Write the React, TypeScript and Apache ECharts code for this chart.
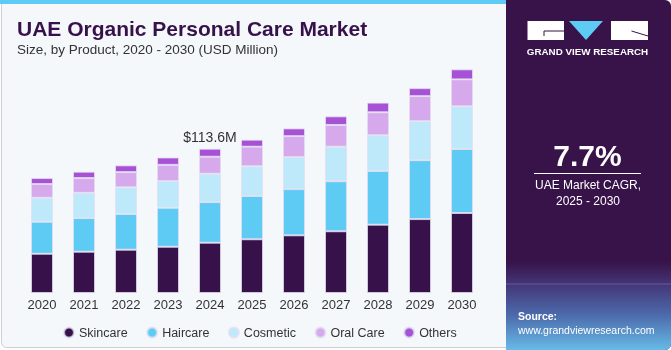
import React, { useEffect, useRef } from "react";
import * as echarts from "echarts";

const years = ["2020", "2021", "2022", "2023", "2024", "2025", "2026", "2027", "2028", "2029", "2030"];
const skincare = [30.9, 32.5, 34.1, 36.4, 39.6, 42.3, 45.4, 48.6, 53.8, 58.2, 63.0];
const haircare = [25.2, 26.5, 28.1, 30.7, 32.0, 34.1, 36.4, 39.4, 42.3, 46.4, 50.4];
const cosmetic = [18.9, 19.9, 21.0, 21.0, 22.3, 23.4, 25.2, 27.2, 28.1, 30.7, 33.6];
const oralCare = [10.8, 11.6, 12.0, 12.8, 13.4, 15.4, 16.5, 17.1, 18.1, 19.7, 21.2];
const others = [4.7, 5.0, 5.3, 5.8, 6.3, 5.5, 6.1, 6.8, 7.6, 6.3, 7.9];
const labelledYear = "2024";

const seriesNames = ["Skincare", "Haircare", "Cosmetic", "Oral Care", "Others"];
const seriesColors = ["#37114a", "#5ecbf5", "#bee9fa", "#d5a9ec", "#a651d6"];

const FONT = "'Liberation Sans', Arial, sans-serif";

export default function App() {
  const ref = useRef<HTMLDivElement>(null);

  useEffect(() => {
    if (!ref.current) return;
    const chart = echarts.init(ref.current, undefined, { renderer: "svg" });
    const all = [skincare, haircare, cosmetic, oralCare, others];
    const labelIdx = years.indexOf(labelledYear);
    const series = all.map((arr, si) => ({
      name: seriesNames[si],
      type: "bar",
      stack: "total",
      barWidth: 22,
      itemStyle: { color: seriesColors[si], borderColor: "rgba(228,222,242,0.75)", borderWidth: 1 },
      data: arr.map((v, i) => {
        if (si === all.length - 1 && i === labelIdx) {
          const total = all.reduce((s, a) => s + a[i], 0);
          return {
            value: v,
            label: {
              show: true,
              position: "top",
              distance: 5,
              formatter: () => "$" + total.toFixed(1) + "M",
              fontSize: 14,
              color: "#333",
              fontFamily: FONT,
            },
          };
        }
        return v;
      }),
    }));

    chart.setOption({
      animation: false,
      textStyle: { fontFamily: FONT },
      grid: { left: 21, width: 462, top: 39, bottom: 57 },
      xAxis: {
        type: "category",
        data: years,
        axisLine: { show: false },
        axisTick: { show: false },
        axisLabel: { color: "#333", fontSize: 13, margin: 5, fontFamily: FONT },
      },
      yAxis: { type: "value", min: 0, max: 200, show: false },
      legend: {
        data: seriesNames,
        icon: "circle",
        itemWidth: 10,
        itemHeight: 10,
        itemGap: 18.5,
        left: 58,
        top: 321,
        textStyle: { fontSize: 12.5, color: "#333", fontFamily: FONT },
      },
      color: seriesColors,
      graphic: [
        { type: "rect", z: -10, shape: { x: 1.5, y: 0.5, width: 520, height: 347, r: 5 }, style: { fill: "#f4f8fb", stroke: "#cfcfcf", lineWidth: 1 } },
        { type: "rect", z: -9, shape: { x: 0, y: 0, width: 510, height: 4 }, style: { fill: "#5ecbf5" } },
        { type: "rect", z: -8, shape: { x: 506, y: 0, width: 165, height: 350, r: [0, 6, 6, 0] }, style: { fill: "#371349" } },
        {
          type: "rect", z: -7, shape: { x: 506, y: 262, width: 165, height: 88, r: [0, 0, 6, 0] },
          style: {
            fill: new echarts.graphic.LinearGradient(0, 0, 0, 1, [
              { offset: 0, color: "#371349" },
              { offset: 0.24, color: "#443475" },
              { offset: 0.6, color: "#4c6aab" },
              { offset: 1, color: "#67bbe8" },
            ]),
          },
        },
        { type: "line", z: -6, shape: { x1: 506, y1: 284, x2: 671, y2: 284 }, style: { stroke: "rgba(160,170,220,0.35)", lineWidth: 1 } },
        // logo
        { type: "rect", shape: { x: 527.5, y: 21, width: 36.5, height: 19 }, style: { fill: "#ffffff" } },
        { type: "polyline", shape: { points: [[564, 31], [544, 31], [544, 36]] }, style: { stroke: "#371349", lineWidth: 1, fill: "none" } },
        { type: "polygon", shape: { points: [[569, 21], [603, 21], [586, 40]] }, style: { fill: "#5ecbf5" } },
        { type: "rect", shape: { x: 611, y: 21, width: 37, height: 19 }, style: { fill: "#ffffff" } },
        { type: "polyline", shape: { points: [[631.5, 31], [648, 36]] }, style: { stroke: "#371349", lineWidth: 1, fill: "none" } },
        { type: "text", style: { x: 587.5, y: 51, text: "GRAND VIEW RESEARCH", fill: "#ffffff", font: `bold 9.8px ${FONT}`, textAlign: "center", textVerticalAlign: "middle" } },
        // CAGR
        { type: "text", style: { x: 587.5, y: 155, text: "7.7%", fill: "#ffffff", font: `bold 30px ${FONT}`, textAlign: "center", textVerticalAlign: "middle" } },
        { type: "line", shape: { x1: 534, y1: 173.5, x2: 641, y2: 173.5 }, style: { stroke: "#ffffff", lineWidth: 1 } },
        { type: "text", style: { x: 588, y: 185, text: "UAE Market CAGR,", fill: "#ffffff", font: `12px ${FONT}`, textAlign: "center", textVerticalAlign: "middle" } },
        { type: "text", style: { x: 588, y: 201, text: "2025 - 2030", fill: "#ffffff", font: `12px ${FONT}`, textAlign: "center", textVerticalAlign: "middle" } },
        // source
        { type: "text", style: { x: 518, y: 316, text: "Source:", fill: "#ffffff", font: `bold 10.5px ${FONT}`, textAlign: "left", textVerticalAlign: "middle" } },
        { type: "text", style: { x: 518, y: 330, text: "www.grandviewresearch.com", fill: "#ffffff", font: `10.5px ${FONT}`, textAlign: "left", textVerticalAlign: "middle" } },
        // titles
        { type: "text", style: { x: 17, y: 28, text: "UAE Organic Personal Care Market", fill: "#37114a", font: `bold 21px ${FONT}`, textAlign: "left", textVerticalAlign: "middle" } },
        { type: "text", style: { x: 17, y: 49, text: "Size, by Product, 2020 - 2030 (USD Million)", fill: "#333333", font: `13.5px ${FONT}`, textAlign: "left", textVerticalAlign: "middle" } },
      ],
      series,
    });
    return () => chart.dispose();
  }, []);

  return <div ref={ref} style={{ position: "fixed", left: 0, top: 0, width: 671, height: 350 }} />;
}
